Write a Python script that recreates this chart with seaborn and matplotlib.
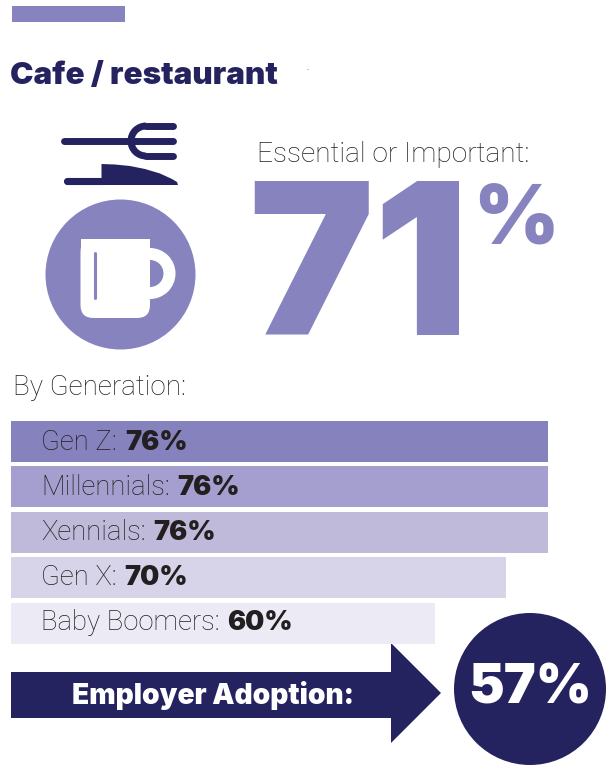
import matplotlib
matplotlib.use("Agg")
import matplotlib.pyplot as plt
from matplotlib.patches import Arc, Circle, Rectangle, Polygon, FancyBboxPatch, Wedge
import pandas as pd
import seaborn as sns

# Survey figures
generations = ["Gen Z", "Millennials", "Xennials", "Gen X", "Baby Boomers"]
shares = [76, 76, 76, 70, 60]
essential_share = 71
employer_share = 57

NAVY = "#25235f"
PURPLE = "#8783bf"
INK = "#231f20"
bar_colors = ["#8582bd", "#a49fce", "#bfb9da", "#d7d3e9", "#ecebf5"]

W, H = 607, 766
sns.set_theme(style="white")
plt.rcParams["font.family"] = ["Roboto", "DejaVu Sans"]
HEAVY = ["Inter", "Roboto", "DejaVu Sans"]

fig = plt.figure(figsize=(W / 100, H / 100), dpi=100, facecolor="white")

# Canvas in pixel units for the pictograms and headline text
canvas = fig.add_axes([0, 0, 1, 1])
canvas.set_xlim(0, W)
canvas.set_ylim(H, 0)
canvas.axis("off")

# Generation bars
bar_ax = fig.add_axes([11 / W, 1 - 646 / H, 537 / W, 227.5 / H], zorder=2)
df = pd.DataFrame({"generation": generations, "share": shares})
sns.barplot(data=df, y="generation", x="share", hue="generation", palette=bar_colors,
            order=generations, hue_order=generations, width=0.9, legend=False,
            saturation=1, linewidth=0, ax=bar_ax)
bar_ax.set_xlim(0, 76)
bar_ax.axis("off")
bar_ax.patch.set_alpha(0)

# Labels sit in canvas units, the bold value following the light name
overlay = fig.add_axes([0, 0, 1, 1], zorder=3)
overlay.set_xlim(0, W)
overlay.set_ylim(H, 0)
overlay.axis("off")
renderer = fig.canvas.get_renderer()
for i, (name, share) in enumerate(zip(generations, shares)):
    base = 449.5 + i * 45.2
    t = overlay.text(41, base, f"{name}:", fontsize=19.8, fontweight="light", color=INK, va="baseline")
    x1 = overlay.transData.inverted().transform(t.get_window_extent(renderer))[1, 0]
    overlay.text(x1 + 8, base, f"{share}%", fontsize=19.5, fontweight="black", family=HEAVY,
                 color=INK, va="baseline")

# Header tab and titles
canvas.add_patch(Rectangle((12, 6), 113, 16, color=PURPLE, lw=0))
canvas.add_patch(Rectangle((307, 68.5), 1.5, 1, color="#c4c4c4", lw=0))
canvas.text(10, 84, "Cafe / restaurant", fontsize=22.6, fontweight="black", family=HEAVY,
            color=NAVY, va="baseline")
canvas.text(257, 162, "Essential or Important:", fontsize=20.2, fontweight="light", color=INK, va="baseline")
canvas.text(13, 395, "By Generation:", fontsize=20, fontweight="light", color=INK, va="baseline")

# Headline share
canvas.text(248, 335, f"{essential_share}", fontsize=152, fontweight="black", family=HEAVY,
            color=PURPLE, va="baseline")
canvas.text(473, 243, "%", fontsize=59, fontweight="black", family=HEAVY, color=PURPLE, va="baseline")

# Fork
lw = 5
for y, x0 in [(126, 146), (141, 64), (156, 146)]:
    canvas.plot([x0, 173], [y, y], color=NAVY, lw=lw, solid_capstyle="round")
canvas.add_patch(Arc((146, 141), 30, 30, theta1=90, theta2=270, color=NAVY, lw=lw))

# Knife
canvas.add_patch(FancyBboxPatch((65, 179), 40, 5, boxstyle="round,pad=0,rounding_size=2.5", color=NAVY, lw=1.5))
blade_top = [(101.5, 164), (115, 164.5), (130, 166), (145, 169), (160, 173.5), (172, 179), (177, 182),
             (178, 185), (101.5, 185)]
canvas.add_patch(Polygon(blade_top, closed=True, color=NAVY, lw=0))

# Cup badge
canvas.add_patch(Circle((120.5, 274.5), 75, color=PURPLE, lw=0))
canvas.add_patch(Wedge((150, 273.5), 25.5, -90, 90, width=12, color="white", lw=0))
canvas.add_patch(FancyBboxPatch((80.5, 239), 69.5, 79, boxstyle="round,pad=0,rounding_size=13",
                                color="white", lw=0))
canvas.add_patch(Rectangle((80.5, 239), 69.5, 30, color="white", lw=0))
canvas.plot([94.5, 94.5], [253, 298], color=PURPLE, lw=2.2, solid_capstyle="round")

# Employer adoption arrow and badge
arrow = [(11, 672), (391, 672), (391, 643), (441, 693), (391, 743), (391, 718), (11, 718)]
canvas.add_patch(Polygon(arrow, closed=True, color=NAVY, lw=0))
canvas.add_patch(Circle((530, 689), 76, color=NAVY, lw=0))
canvas.text(213.5, 695, "Employer Adoption:", fontsize=20.2, fontweight="black", family=HEAVY, color="white",
            ha="center", va="center")
canvas.text(530.5, 689, f"{employer_share}%", fontsize=38.6, fontweight="black", family=HEAVY, color="white",
            ha="center", va="center")

fig.savefig("out.png", dpi=100, facecolor="white")
